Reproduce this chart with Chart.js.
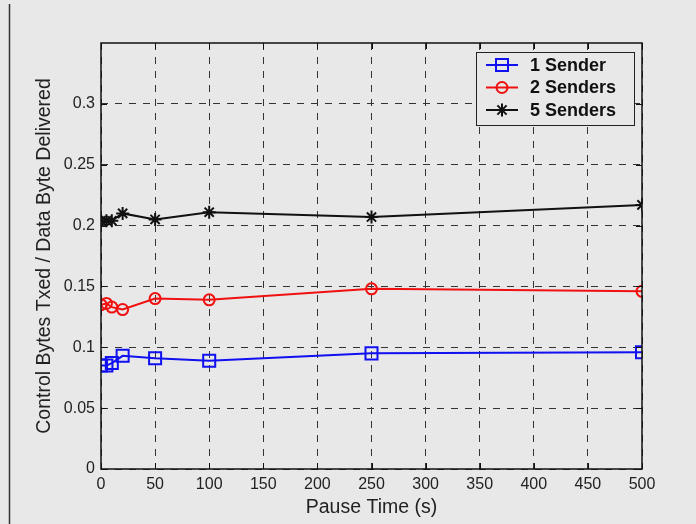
<!DOCTYPE html>
<html>
<head>
<meta charset="utf-8">
<script src="https://cdn.jsdelivr.net/npm/chart.js@4/dist/chart.umd.min.js"></script>
<style>
  html, body { margin: 0; padding: 0; background: #e8e8e8; }
  #wrap { width: 696px; height: 524px; }
</style>
</head>
<body>
<div id="wrap"><canvas id="c" width="696" height="524"></canvas></div>
<script>
// pause times (s)
const pauseTimes = [0, 5, 10, 20, 50, 100, 250, 500];
const oneSender   = [0.085, 0.085, 0.087, 0.093, 0.091, 0.089, 0.095, 0.096];
const twoSenders  = [0.135, 0.136, 0.133, 0.131, 0.140, 0.139, 0.148, 0.146];
const fiveSenders = [0.204, 0.204, 0.204, 0.210, 0.205, 0.211, 0.207, 0.217];
const seriesNames = ["1 Sender", "2 Senders", "5 Senders"];
const yTicks = [0, 0.05, 0.1, 0.15, 0.2, 0.25, 0.3];

const FONT = "'Liberation Sans', Arial, Helvetica, sans-serif";
const BG = "#e8e8e8";

function pts(ys) {
  return pauseTimes.map((x, i) => ({ x: x, y: ys[i] }));
}

// background, left frame line, box + inner ticks, legend
const matlabLook = {
  id: "matlabLook",
  beforeDraw(chart) {
    const ctx = chart.ctx;
    ctx.save();
    ctx.fillStyle = BG;
    ctx.fillRect(0, 0, chart.width, chart.height);
    ctx.strokeStyle = "#333";
    ctx.lineWidth = 1.5;
    ctx.beginPath();
    ctx.moveTo(9.5, 4);
    ctx.lineTo(9.5, chart.height);
    ctx.stroke();
    ctx.restore();
  },
  afterDatasetsDraw(chart) {
    const { ctx, chartArea: a, scales } = chart;
    ctx.save();
    ctx.strokeStyle = "#111";
    ctx.lineWidth = 1.5;
    ctx.strokeRect(a.left, a.top, a.right - a.left, a.bottom - a.top);
    ctx.lineWidth = 1;
    ctx.beginPath();
    scales.x.ticks.forEach(t => {
      const px = Math.round(scales.x.getPixelForValue(t.value)) + 0.5;
      ctx.moveTo(px, a.bottom); ctx.lineTo(px, a.bottom - 6);
      ctx.moveTo(px, a.top); ctx.lineTo(px, a.top + 6);
    });
    scales.y.ticks.forEach(t => {
      const py = Math.round(scales.y.getPixelForValue(t.value)) + 0.5;
      ctx.moveTo(a.left, py); ctx.lineTo(a.left + 6, py);
      ctx.moveTo(a.right, py); ctx.lineTo(a.right - 6, py);
    });
    ctx.stroke();

    // legend
    const bx = 476, by = 52, bw = 158, bh = 73;
    ctx.fillStyle = BG;
    ctx.fillRect(bx, by, bw, bh);
    ctx.strokeStyle = "#222";
    ctx.lineWidth = 1;
    ctx.strokeRect(bx + 0.5, by + 0.5, bw, bh);
    ctx.font = "bold 18px " + FONT;
    ctx.textBaseline = "middle";
    chart.data.datasets.forEach((ds, i) => {
      const y = by + 13 + i * 22.5;
      ctx.strokeStyle = ds.borderColor;
      ctx.lineWidth = 2;
      ctx.beginPath();
      ctx.moveTo(486, y); ctx.lineTo(518, y);
      ctx.stroke();
      ctx.fillStyle = "rgba(0,0,0,0)";
      Chart.helpers.drawPoint(ctx, {
        pointStyle: ds.pointStyle, radius: ds.pointRadius, rotation: 0,
        borderWidth: 2
      }, 502, y);
      ctx.fillStyle = "#111";
      ctx.fillText(ds.label, 530, y + 1);
    });
    ctx.restore();
  }
};

const mk = (label, ys, color, style, r) => ({
  label: label,
  data: pts(ys),
  borderColor: color,
  backgroundColor: "rgba(0,0,0,0)",
  pointBorderColor: color,
  pointBackgroundColor: "rgba(0,0,0,0)",
  borderWidth: 2,
  pointBorderWidth: 2,
  pointStyle: style,
  pointRadius: r,
  pointHoverRadius: r,
  tension: 0
});

new Chart(document.getElementById("c"), {
  type: "line",
  data: {
    datasets: [
      mk(seriesNames[0], oneSender, "#1010f0", "rect", 8.5),
      mk(seriesNames[1], twoSenders, "#f01010", "circle", 5.5),
      mk(seriesNames[2], fiveSenders, "#111111", "star", 6.5)
    ]
  },
  options: {
    responsive: false,
    animation: false,
    events: [],
    layout: { padding: { top: 43, right: 54, left: 0, bottom: 0 } },
    plugins: { legend: { display: false }, tooltip: { enabled: false } },
    scales: {
      x: {
        type: "linear", min: 0, max: 500,
        ticks: { stepSize: 50, color: "#222", padding: 6, maxRotation: 0,
                 font: { family: FONT, size: 16 } },
        grid: { color: "#333", lineWidth: 1, drawTicks: false },
        border: { display: false, dash: [7, 7] },
        title: { display: true, text: "Pause Time (s)", color: "#222",
                 font: { family: FONT, size: 19.5 }, padding: { top: 0, bottom: 5 } },
        afterFit(s) { s.height = 55; }
      },
      y: {
        type: "linear", min: 0, max: 0.35,
        afterBuildTicks(s) { s.ticks = yTicks.map(v => ({ value: v })); },
        ticks: { color: "#222", padding: 6,
                 font: { family: FONT, size: 16 },
                 callback: v => String(Math.round(v * 100) / 100) },
        grid: { color: "#333", lineWidth: 1, drawTicks: false },
        border: { display: false, dash: [7, 7] },
        title: { display: true, text: "Control Bytes Txed / Data Byte Delivered", color: "#222",
                 font: { family: FONT, size: 19.5 }, padding: { top: 33, bottom: 0 } },
        afterFit(s) { s.width = 101; }
      }
    }
  },
  plugins: [matlabLook]
});
</script>
</body>
</html>
